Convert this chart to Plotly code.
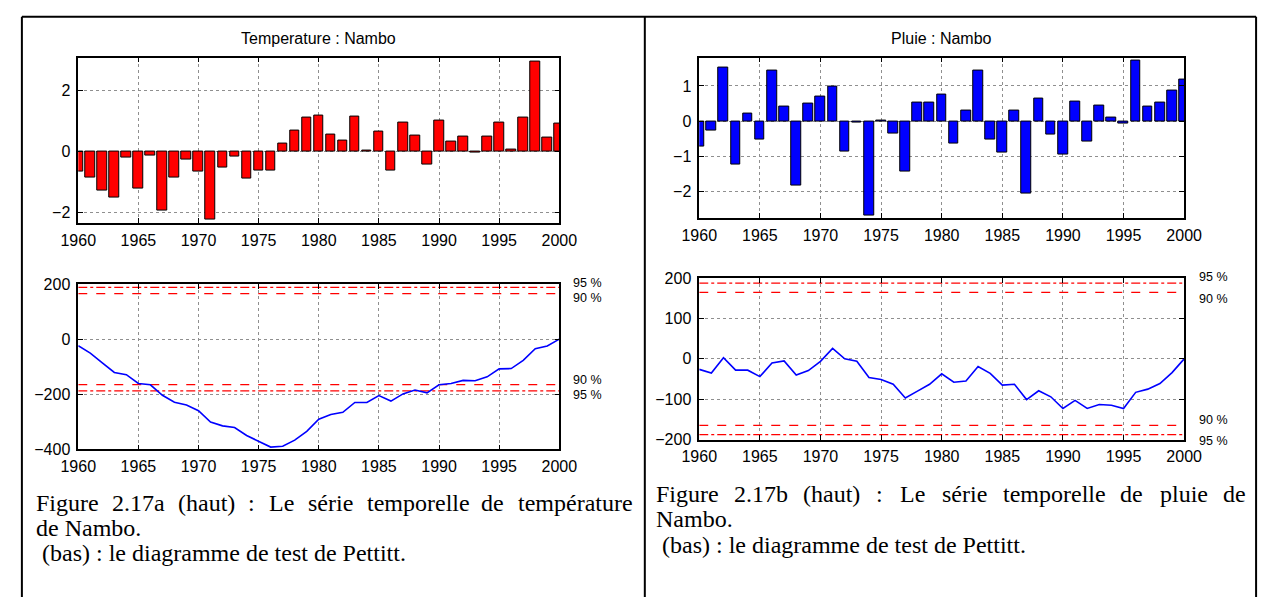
import plotly.graph_objects as go

W, H = 1277, 606

# ---------------- data ----------------
years = list(range(1960, 2001))
year_ticks = [1960, 1965, 1970, 1975, 1980, 1985, 1990, 1995, 2000]

temp_anomaly = [-0.65, -0.86, -1.30, -1.51, -0.20, -1.24, -0.14, -1.96, -0.85, -0.26,
                -0.65, -2.25, -0.54, -0.16, -0.91, -0.63, -0.63, 0.25, 0.67, 1.10,
                1.17, 0.54, 0.35, 1.14, 0.04, 0.66, -0.62, 0.94, 0.52, -0.43,
                1.00, 0.33, 0.47, -0.04, 0.50, 0.94, 0.07, 1.10, 2.95, 0.46, 0.92]

rain_anomaly = [-0.74, -0.28, 1.52, -1.23, 0.21, -0.52, 1.44, 0.41, -1.84, 0.49,
                0.69, 0.98, -0.88, -0.04, -2.69, 0.02, -0.36, -1.45, 0.53, 0.54,
                0.76, -0.65, 0.31, 1.45, -0.52, -0.89, 0.31, -2.06, 0.63, -0.39,
                -0.94, 0.57, -0.59, 0.43, 0.11, -0.07, 1.72, 0.42, 0.53, 0.87, 1.18]

temp_pettitt = [-24, -51, -86, -121, -129, -161, -166, -204, -229, -239,
                -260, -301, -315, -321, -350, -371, -392, -389, -367, -335,
                -291, -274, -266, -230, -230, -205, -225, -199, -185, -195,
                -166, -161, -150, -151, -137, -108, -107, -77, -35, -25, 0]

rain_pettitt = [-26, -35, 3, -28, -28, -44, -10, -5, -40, -29,
                -6, 26, 0, -6, -46, -51, -63, -97, -80, -63,
                -37, -58, -55, -19, -36, -65, -63, -101, -79, -94,
                -123, -103, -123, -113, -115, -123, -83, -75, -61, -34, 0]

temp_thresholds = {"90 %": 165, "95 %": 188}
rain_thresholds = {"90 %": 165, "95 %": 188}

temp_bar_yticks = [-2, 0, 2]
rain_bar_yticks = [-2, -1, 0, 1]
temp_pet_yticks = [-400, -200, 0, 200]
rain_pet_yticks = [-200, -100, 0, 100, 200]

caption_left = ["Figure 2.17a (haut) : Le série temporelle de température",
                "de Nambo.",
                " (bas) : le diagramme de test de Pettitt."]
caption_right = ["Figure 2.17b (haut) : Le série temporelle de pluie de",
                 "Nambo.",
                 " (bas) : le diagramme de test de Pettitt."]

# ---------------- helpers ----------------
def xd(px):
    return px / W

def yd(py):
    return 1 - py / H

SANS = "Liberation Sans, Arial, sans-serif"
SERIF = "Liberation Serif, Times New Roman, serif"
TICKFONT = dict(family=SANS, size=16, color="black")

def xaxis_style(x0, x1, anchor):
    return dict(domain=[xd(x0), xd(x1)], anchor=anchor, range=[1960, 2000],
                tickvals=year_ticks, showgrid=True, gridcolor="#8f8f8f",
                griddash="dot", gridwidth=1, showline=True, linecolor="black",
                linewidth=1.5, mirror="ticks", ticks="inside", ticklen=5,
                tickcolor="black", zeroline=False, tickfont=TICKFONT,
                ticklabelstandoff=2)

def yaxis_style(y0, y1, anchor, rng, tv):
    return dict(domain=[yd(y1), yd(y0)], anchor=anchor, range=rng, tickvals=tv,
                showgrid=True, gridcolor="#8f8f8f", griddash="dot", gridwidth=1,
                showline=True, linecolor="black", linewidth=1.5, mirror="ticks",
                ticks="inside", ticklen=5, tickcolor="black", zeroline=False,
                tickfont=TICKFONT, ticklabelstandoff=3)

fig = go.Figure()

# bars
fig.add_trace(go.Bar(x=years, y=temp_anomaly, width=0.8,
                     marker=dict(color="#ff0000", line=dict(color="black", width=1)),
                     xaxis="x", yaxis="y", showlegend=False))
fig.add_trace(go.Bar(x=years, y=rain_anomaly, width=0.8,
                     marker=dict(color="#0000ff", line=dict(color="black", width=1)),
                     xaxis="x3", yaxis="y3", showlegend=False))

# Pettitt thresholds + curves
def add_thresholds(thr, xa, ya):
    for name, v in thr.items():
        dash = "dash" if name.startswith("90") else "dashdot"
        for s in (1, -1):
            fig.add_trace(go.Scatter(x=[1960, 2000], y=[s * v, s * v], mode="lines",
                                     line=dict(color="#ff0000", width=1.2, dash=dash),
                                     xaxis=xa, yaxis=ya, showlegend=False,
                                     hoverinfo="skip"))

add_thresholds(temp_thresholds, "x2", "y2")
add_thresholds(rain_thresholds, "x4", "y4")

fig.add_trace(go.Scatter(x=years, y=temp_pettitt, mode="lines",
                         line=dict(color="#0000ff", width=1.6),
                         xaxis="x2", yaxis="y2", showlegend=False))
fig.add_trace(go.Scatter(x=years, y=rain_pettitt, mode="lines",
                         line=dict(color="#0000ff", width=1.6),
                         xaxis="x4", yaxis="y4", showlegend=False))

fig.update_layout(
    width=W, height=H, margin=dict(l=0, r=0, t=0, b=0),
    paper_bgcolor="white", plot_bgcolor="white", bargap=0,
    xaxis=xaxis_style(62, 557, "y"),
    yaxis=yaxis_style(51, 221, "x", [-2.35, 3.08], temp_bar_yticks),
    xaxis2=xaxis_style(62, 557, "y2"),
    yaxis2=yaxis_style(284, 454, "x2", [-400, 200], temp_pet_yticks),
    xaxis3=xaxis_style(701, 1200, "y3"),
    yaxis3=yaxis_style(51, 216, "x3", [-2.76, 1.81], rain_bar_yticks),
    xaxis4=xaxis_style(701, 1200, "y4"),
    yaxis4=yaxis_style(278, 444, "x4", [-200, 200], rain_pet_yticks),
)

ann = []
# titles
ann.append(dict(text="Temperature : Nambo", x=xd(309.5), y=yd(31), xref="paper", yref="paper",
                showarrow=False, xanchor="center", yanchor="middle",
                font=dict(family=SANS, size=16, color="black")))
ann.append(dict(text="Pluie : Nambo", x=xd(950.5), y=yd(31), xref="paper", yref="paper",
                showarrow=False, xanchor="center", yanchor="middle",
                font=dict(family=SANS, size=16, color="black")))

# percentage labels
for txt, px, py in [("95 %", 569, 283), ("90 %", 569, 298), ("90 %", 569, 383), ("95 %", 569, 398),
                    ("95 %", 1213, 277), ("90 %", 1213, 299), ("90 %", 1213, 424), ("95 %", 1213, 446)]:
    ann.append(dict(text=txt, x=xd(px), y=yd(py), xref="paper", yref="paper", showarrow=False,
                    xanchor="left", yanchor="middle",
                    font=dict(family=SANS, size=12.5, color="black")))

# captions: first line justified by placing words, others as plain text
TIMES = {"F": 556, "i": 278, "g": 500, "u": 500, "r": 333, "e": 444, " ": 250, "2": 500,
         ".": 250, "1": 500, "7": 500, "a": 444, "b": 500, "(": 333, ")": 333, "h": 500,
         "t": 278, ":": 278, "L": 611, "s": 389, "é": 444, "m": 778, "p": 500, "o": 500,
         "l": 278, "d": 500, "N": 722, "n": 500, "P": 556, "c": 444}
CAP_FS = 24

def wwidth(w):
    return sum(TIMES.get(c, 500) for c in w) / 1000 * CAP_FS

def cap_text(text, px, py):
    ann.append(dict(text=text.replace(" ", "&nbsp;") if text.startswith(" ") else text,
                    x=xd(px), y=yd(py), xref="paper", yref="paper",
                    showarrow=False, xanchor="left", yanchor="middle", borderpad=0,
                    font=dict(family=SERIF, size=CAP_FS, color="black")))

def justified(text, x0, x1, py):
    words = text.split(" ")
    widths = [wwidth(w) for w in words]
    gap = (x1 - x0 - sum(widths)) / (len(words) - 1)
    x = x0
    for w, wd in zip(words, widths):
        cap_text(w, x, py)
        x += wd + gap

justified(caption_left[0], 18, 628, 509)
cap_text(caption_left[1], 18, 535)
cap_text(caption_left[2], 18, 561)
justified(caption_right[0], 655, 1262, 500)
cap_text(caption_right[1], 655, 526)
cap_text(caption_right[2], 655, 552)

fig.update_layout(annotations=ann)

# cell borders
shapes = [
    dict(type="line", xref="paper", yref="paper", x0=xd(4), x1=xd(1274), y0=yd(9), y1=yd(9),
         line=dict(color="black", width=2)),
    dict(type="line", xref="paper", yref="paper", x0=xd(4), x1=xd(4), y0=yd(9), y1=yd(606),
         line=dict(color="black", width=2)),
    dict(type="line", xref="paper", yref="paper", x0=xd(645), x1=xd(645), y0=yd(9), y1=yd(606),
         line=dict(color="black", width=2)),
    dict(type="line", xref="paper", yref="paper", x0=xd(1274), x1=xd(1274), y0=yd(9), y1=yd(606),
         line=dict(color="black", width=2)),
]
fig.update_layout(shapes=shapes)

fig.write_html("out.html",
               post_script="document.body.style.margin='0';document.body.style.overflow='hidden';")
